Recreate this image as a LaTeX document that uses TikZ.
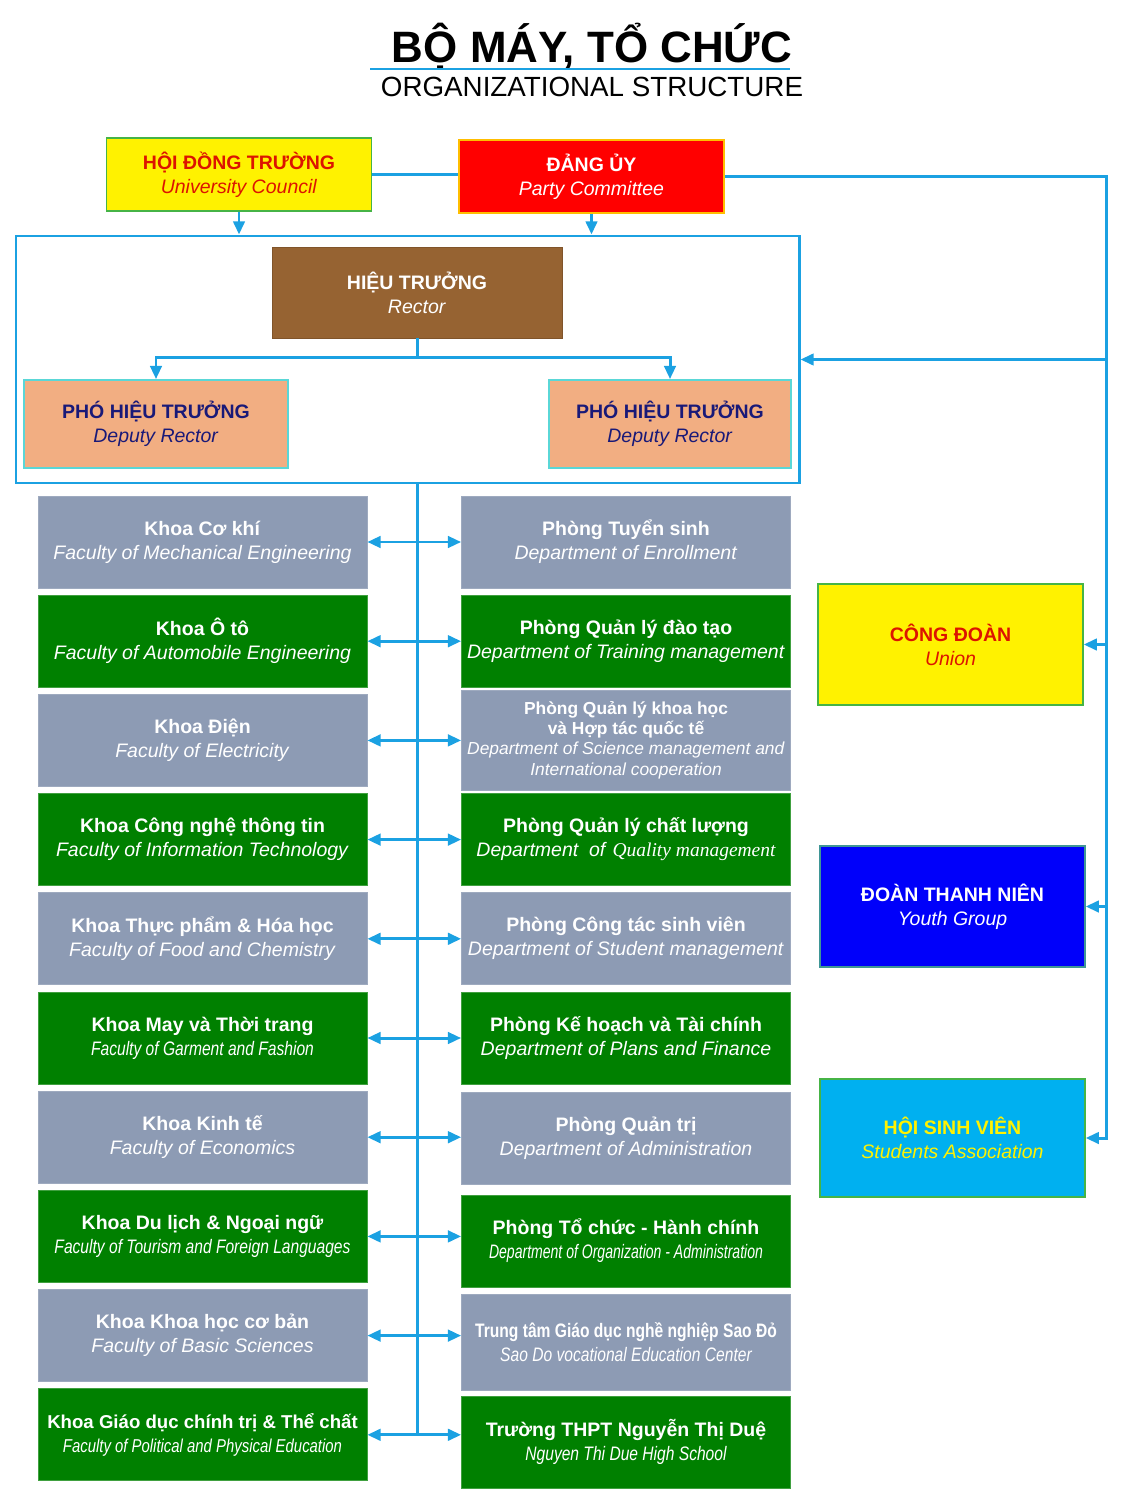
\documentclass[tikz,border=0pt]{standalone}
\usepackage{fontspec}
\setmainfont{Liberation Sans}
\newfontfamily\narrowfont[FakeStretch=0.8]{Liberation Sans}
\newfontfamily\timesfont{Liberation Serif}
\usetikzlibrary{arrows.meta,calc}
\definecolor{xanhLine}{RGB}{27,161,226}
\definecolor{xamHop}{RGB}{141,155,180}
\definecolor{xanhLa}{RGB}{0,128,0}
\definecolor{nauHT}{RGB}{150,99,50}
\definecolor{camPHT}{RGB}{242,174,130}
\definecolor{chuNavy}{RGB}{25,25,120}
\definecolor{doChu}{RGB}{220,20,0}
\definecolor{vienLa}{RGB}{70,180,70}
\definecolor{vienCam}{RGB}{255,190,0}
\definecolor{vienNgoc}{RGB}{90,215,215}
\definecolor{xanhTroi}{RGB}{0,176,240}
\definecolor{xanhDam}{RGB}{0,0,250}
\newlength\px
\setlength\px{0.02cm}
\newcommand{\lbl}[2]{\textbf{#1}\\\textit{#2}}

\begin{document}
\begin{tikzpicture}[x=1\px,y=-1\px,
    conn/.style={draw=xanhLine,line width=1.7pt},
    arr/.style={conn,-{Triangle[length=7.5pt,width=6.5pt]}},
    dbl/.style={conn,{Triangle[length=7.5pt,width=6.5pt]}-{Triangle[length=7.5pt,width=6.5pt]}},
    box/.style={minimum width=329\px,minimum height=92\px,inner sep=1pt,
                align=center,text=white,font=\fontsize{11.1}{13.6}\selectfont},
    xam/.style={box,fill=xamHop,draw=xamHop!85!white},
    xanh/.style={box,fill=xanhLa,draw=xanhLa!75!white},
    topbox/.style={box,minimum width=265\px,minimum height=73\px,line width=0.8pt},
    phobox/.style={box,minimum height=88\px,fill=camPHT,draw=vienNgoc,
                   line width=1pt,text=chuNavy},
    sidebox/.style={box,minimum width=265\px,minimum height=121\px,line width=0.8pt},
  ]
    \useasboundingbox (0,0) rectangle (1122,1500);

    % Title
    \node[font=\fontsize{25}{28}\selectfont\bfseries] (tieude) at (592,47) {BỘ MÁY, TỔ CHỨC};
    \draw[draw=xanhLine,line width=1.1pt] (370,69) -- (790,69);
    \node[font=\fontsize{15.8}{18}\selectfont] (tieudeEn) at (592,87) {ORGANIZATIONAL STRUCTURE};

    % Council, Party
    \node[topbox,fill=yellow,draw=vienLa,text=doChu] (hdt) at (239,174.5)
      {\lbl{HỘI ĐỒNG TRƯỜNG}{University Council}};
    \node[topbox,fill=red,draw=vienCam] (dang) at (591.5,176.5)
      {\lbl{ĐẢNG ỦY}{Party Committee}};

    % Board frame
    \node[draw=xanhLine,line width=1.7pt,minimum width=783\px,minimum height=247\px,
          inner sep=0pt] (khung) at (407.5,359.5) {};
    \node[box,fill=nauHT,draw=nauHT!85!black,minimum width=290\px,minimum height=91\px]
      (ht) at (417,292.5) {\lbl{HIỆU TRƯỞNG}{Rector}};
    \node[phobox,minimum width=264\px] (phoL) at (156,424)
      {\lbl{PHÓ HIỆU TRƯỞNG}{Deputy Rector}};
    \node[phobox,minimum width=242\px] (phoR) at (670,424)
      {\lbl{PHÓ HIỆU TRƯỞNG}{Deputy Rector}};

    % Faculties
    \node[xam]  (k1)  at (202.5,542)    {\lbl{Khoa Cơ khí}{Faculty of Mechanical Engineering}};
    \node[xanh] (k2)  at (202.5,641.2)  {\lbl{Khoa Ô tô}{Faculty of Automobile Engineering}};
    \node[xam]  (k3)  at (202.5,740.4)  {\lbl{Khoa Điện}{Faculty of Electricity}};
    \node[xanh] (k4)  at (202.5,839.6)  {\lbl{Khoa Công nghệ thông tin}{Faculty of Information Technology}};
    \node[xam]  (k5)  at (202.5,938.8)  {\lbl{Khoa Thực phẩm \& Hóa học}{Faculty of Food and Chemistry}};
    \node[xanh] (k6)  at (202.5,1038)   {\textbf{Khoa May và Thời trang}\\{\narrowfont\itshape Faculty of Garment and Fashion}};
    \node[xam]  (k7)  at (202.5,1137.2) {\lbl{Khoa Kinh tế}{Faculty of Economics}};
    \node[xanh] (k8)  at (202.5,1236.4) {\textbf{Khoa Du lịch \& Ngoại ngữ}\\{\narrowfont\itshape Faculty of Tourism and Foreign Languages}};
    \node[xam]  (k9)  at (202.5,1335.6) {\lbl{Khoa Khoa học cơ bản}{Faculty of Basic Sciences}};
    \node[xanh,font=\fontsize{10.6}{13.6}\selectfont] (k10) at (202.5,1434.8) {\textbf{Khoa Giáo dục chính trị \& Thể chất}\\{\narrowfont\itshape Faculty of Political and Physical Education}};

    % Departments
    \node[xam]  (p1)  at (626,542)  {\lbl{Phòng Tuyển sinh}{Department of Enrollment}};
    \node[xanh] (p2)  at (626,641)  {\lbl{Phòng Quản lý đào tạo}{Department of Training management}};
    \node[xam,minimum height=100\px,font=\fontsize{9.9}{11.6}\selectfont] (p3) at (626,740)
      {\textbf{Phòng Quản lý khoa học}\\\textbf{và Hợp tác quốc tế}\\
       \textit{Department of Science management and}\\\textit{International cooperation}};
    \node[xanh] (p4)  at (626,839)  {\textbf{Phòng Quản lý chất lượng}\\\textit{Department\ \ of} {\timesfont\itshape Quality management}};
    \node[xam]  (p5)  at (626,938)  {\lbl{Phòng Công tác sinh viên}{Department of Student management}};
    \node[xanh] (p6)  at (626,1038) {\lbl{Phòng Kế hoạch và Tài chính}{Department of Plans and Finance}};
    \node[xam]  (p7)  at (626,1138) {\lbl{Phòng Quản trị}{Department of Administration}};
    \node[xanh] (p8)  at (626,1241) {\textbf{Phòng Tổ chức - Hành chính}\\{\narrowfont\itshape\addfontfeature{FakeStretch=0.72}Department of Organization - Administration}};
    \node[xam,minimum height=96\px] (p9) at (626,1342) {{\narrowfont\bfseries Trung tâm Giáo dục nghề nghiệp Sao Đỏ}\\{\narrowfont\itshape Sao Do vocational Education Center}};
    \node[xanh] (p10) at (626,1442) {\textbf{Trường THPT Nguyễn Thị Duệ}\\{\narrowfont\itshape Nguyen Thi Due High School}};

    % Mass organisations
    \node[sidebox,fill=yellow,draw=vienLa,text=doChu] (cd) at (950.5,644.5)
      {\lbl{CÔNG ĐOÀN}{Union}};
    \node[sidebox,fill=xanhDam,draw=vienNgoc!70!black] (dtn) at (952.5,906.5)
      {\lbl{ĐOÀN THANH NIÊN}{Youth Group}};
    \node[sidebox,minimum height=118\px,fill=xanhTroi,draw=vienLa,text=yellow] (hsv) at (952.5,1138)
      {\lbl{HỘI SINH VIÊN}{Students Association}};

    % Connectors
    \draw[conn] (hdt.east) -- (hdt.east -| dang.west);
    \draw[arr] (hdt.south) -- (hdt.south |- khung.north);
    \draw[arr] (dang.south) -- (dang.south |- khung.north);
    \coordinate (nut) at ($(ht.south)+(0,19)$);
    \draw[conn] (ht.south) -- (nut);
    \draw[arr] (nut) -| (phoL.north);
    \draw[arr] (nut) -| (phoR.north);
    \draw[conn] (ht.south |- khung.south) -- (ht.south |- k10.east);
    \foreach \i in {1,...,10}
      \draw[dbl] (k\i.east) -- (k\i.east -| p\i.west);

    % Right trunk
    \coordinate (goc) at (1106,0);
    \draw[arr] (dang.east) -| (goc |- hsv.east) -- (hsv.east);
    \foreach \n in {khung,cd,dtn}
      \draw[arr] (goc |- \n.east) -- (\n.east);

  \end{tikzpicture}
\end{document}
